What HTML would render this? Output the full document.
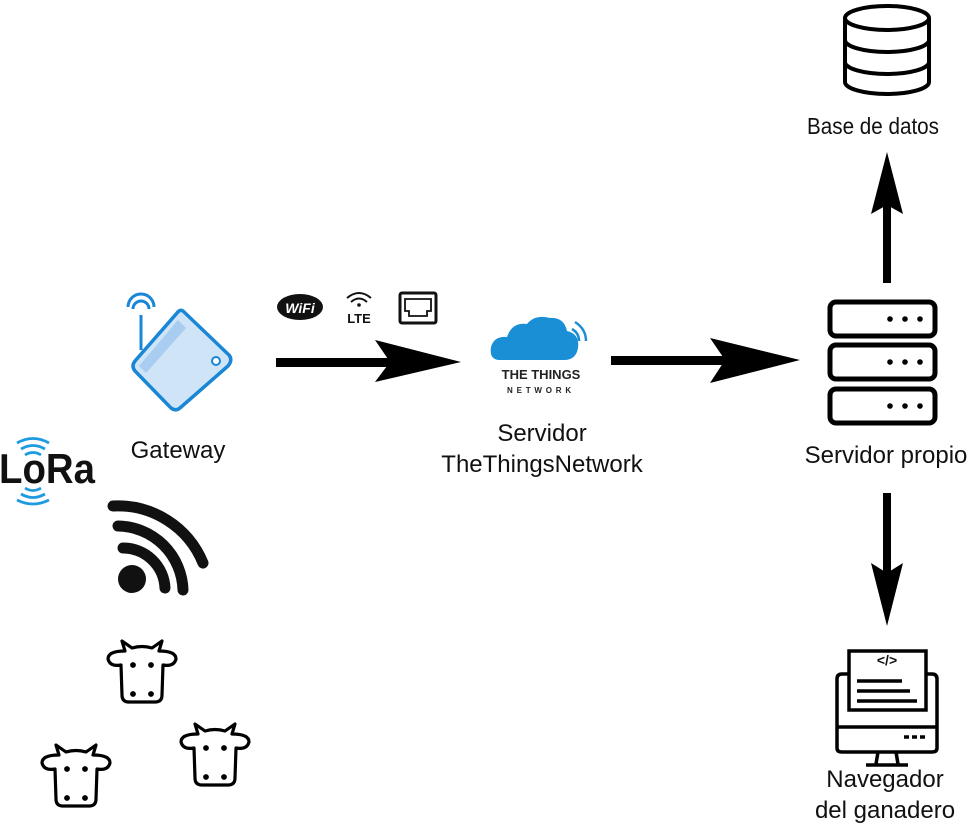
<!DOCTYPE html>
<html><head><meta charset="utf-8"><style>
html,body{margin:0;padding:0;background:#fff;}
svg{display:block;}
text{font-family:"Liberation Sans",sans-serif;fill:#111;}
</style></head><body>
<svg width="972" height="824" viewBox="0 0 972 824" xmlns="http://www.w3.org/2000/svg">
<!-- Database -->
<g fill="none" stroke="#000" stroke-width="4">
<path d="M845 18 V82 A42 12 0 0 0 929 82 V18"/>
<ellipse cx="887" cy="18" rx="42" ry="12" fill="#fff"/>
<path d="M845 40 A42 12 0 0 0 929 40"/>
<path d="M845 62 A42 12 0 0 0 929 62"/>
</g>
<text x="807" y="134" font-size="23" textLength="132" lengthAdjust="spacingAndGlyphs">Base de datos</text>
<!-- up arrow -->
<rect x="883" y="205" width="8" height="78" fill="#000"/>
<polygon points="887,152 903,214 887,205 871,214" fill="#000"/>
<!-- servers -->
<g fill="none" stroke="#000" stroke-width="5">
<rect x="830" y="302" width="105" height="34" rx="6"/>
<rect x="830" y="345" width="105" height="34" rx="6"/>
<rect x="830" y="389" width="105" height="34" rx="6"/>
</g>
<g fill="#000">
<circle cx="890" cy="319" r="2.8"/><circle cx="905" cy="319" r="2.8"/><circle cx="920" cy="319" r="2.8"/>
<circle cx="890" cy="362" r="2.8"/><circle cx="905" cy="362" r="2.8"/><circle cx="920" cy="362" r="2.8"/>
<circle cx="890" cy="406" r="2.8"/><circle cx="905" cy="406" r="2.8"/><circle cx="920" cy="406" r="2.8"/>
</g>
<text x="886" y="463" font-size="24" text-anchor="middle">Servidor propio</text>
<!-- down arrow -->
<rect x="883" y="493" width="8" height="80" fill="#000"/>
<polygon points="887,626 903,563 887,573 871,563" fill="#000"/>
<!-- monitor -->
<g fill="none" stroke="#000" stroke-width="3.5">
<path d="M848 674 H842 Q837 674 837 679 V748 Q837 752 842 752 H932 Q937 752 937 748 V679 Q937 674 932 674 H926"/>
<line x1="837" y1="727" x2="937" y2="727"/>
<rect x="849" y="651" width="77" height="59" fill="#fff"/>
<path d="M878 752 L876 764 M896 752 L898 764"/>
<line x1="866" y1="765" x2="908" y2="765"/>
<line x1="857" y1="681" x2="902" y2="681"/>
<line x1="857" y1="691" x2="910" y2="691"/>
<line x1="857" y1="701" x2="917" y2="701"/>
<line x1="904" y1="737" x2="928" y2="737" stroke-dasharray="5 3"/>
</g>
<text x="887" y="665" font-size="14" font-weight="bold" text-anchor="middle">&lt;/&gt;</text>
<text x="885" y="787" font-size="24" text-anchor="middle">Navegador</text>
<text x="885" y="818" font-size="24" text-anchor="middle">del ganadero</text>
<!-- arrow 2 -->
<rect x="611" y="356" width="115" height="9" fill="#000"/>
<polygon points="800,360 710,338 725,360 710,383" fill="#000"/>
<!-- arrow 1 -->
<rect x="276" y="358" width="115" height="9" fill="#000"/>
<polygon points="461,362 375,340 390,362 375,382" fill="#000"/>
<!-- TTN -->
<path d="M500 360 Q489 360 491 347 Q494 336 507 337 Q512 322 527 324 Q535 314 550 318 Q564 317 567 331 Q580 334 578 348 Q576 360 564 360 Z" fill="#1a8fd6"/>
<g fill="none" stroke="#1a8fd6" stroke-width="2.5">
<path d="M572 329 Q579 333 579 341"/><path d="M575 322 Q586 329 586 341"/>
</g>
<text x="541" y="379" font-size="13" font-weight="bold" text-anchor="middle" style="fill:#222">THE THINGS</text>
<text x="541" y="393" font-size="8" font-weight="bold" text-anchor="middle" letter-spacing="3.8" style="fill:#222">NETWORK</text>
<text x="542" y="441" font-size="24" text-anchor="middle">Servidor</text>
<text x="542" y="472" font-size="24" text-anchor="middle">TheThingsNetwork</text>
<!-- wifi/lte/ethernet icons -->
<ellipse cx="300" cy="307" rx="23" ry="13" fill="#111"/>
<text x="300" y="313" font-size="14" font-weight="bold" text-anchor="middle" style="fill:#fff" font-style="italic">WiFi</text>
<g fill="none" stroke="#111" stroke-width="2">
<path d="M347 298 Q359 288 371 298"/><path d="M351 302 Q359 295 367 302"/>
</g>
<circle cx="359" cy="305" r="1.8" fill="#111"/>
<text x="359" y="323" font-size="13" font-weight="bold" text-anchor="middle">LTE</text>
<rect x="400" y="293" width="36" height="30" rx="2" fill="none" stroke="#111" stroke-width="3"/>
<path d="M405 299 H431 V311 H427 V316 H409 V311 H405 Z" fill="none" stroke="#111" stroke-width="1.8"/>
<!-- gateway -->
<g stroke="#1a86d6" stroke-width="3" fill="none">
<path d="M141 350 L141 315"/>
<path d="M133 309 A8 8 0 0 1 149 309"/><path d="M128 307 A13 13 0 0 1 154 307"/>
</g>
<path d="M183 311 L229 355 Q233 360 228 366 L180 408 Q175 412 170 407 L135 371 Q131 366 135 361 L177 313 Q180 309 183 311 Z" fill="#cfe4f7" stroke="#1a86d6" stroke-width="3.5"/>
<path d="M139 366 L178 320 L186 328 L146 373 Z" fill="#a8cdf0"/>
<circle cx="216" cy="361" r="4" fill="#fff" stroke="#1a86d6" stroke-width="2"/>
<text x="178" y="458" font-size="24" text-anchor="middle">Gateway</text>
<!-- LoRa -->
<text x="-1" y="483" font-size="42" font-weight="bold" textLength="96" lengthAdjust="spacingAndGlyphs" style="fill:#111">LoRa</text>
<g fill="none" stroke="#1e9be0" stroke-width="2.8">
<path d="M25 455 Q33 450 41 455"/><path d="M21 449 Q33 442 45 449"/><path d="M17 443 Q33 434 49 443"/>
<path d="M25 488 Q33 493 41 488"/><path d="M21 494 Q33 501 45 494"/><path d="M17 500 Q33 508 49 500"/>
</g>
<!-- black wifi -->
<circle cx="132" cy="579" r="14" fill="#111"/>
<g fill="none" stroke="#111" stroke-width="11" stroke-linecap="round">
<path d="M123 548 A42 42 0 0 1 165 588"/>
<path d="M118 526 A66 66 0 0 1 183 590"/>
<path d="M113 506 A92 92 0 0 1 203 563"/>
</g>
<!-- cows -->
<defs>
<g id="cow" fill="none" stroke="#000" stroke-width="3.2" stroke-linejoin="round">
<path d="M18 11 L15 1 L25 8 Q35 5 45 8 L55 1 L52 11 Q69 11 69 19 Q67 27 56 25 L55 55 Q55 62 48 62 L22 62 Q15 62 15 55 L14 25 Q3 27 1 19 Q1 11 18 11 Z"/>
<circle cx="26" cy="25" r="1.3" fill="#000"/><circle cx="44" cy="25" r="1.3" fill="#000"/>
<circle cx="26" cy="54" r="1.3" fill="#000"/><circle cx="44" cy="54" r="1.3" fill="#000"/>
</g>
</defs>
<use href="#cow" x="107" y="640"/>
<use href="#cow" x="41" y="744"/>
<use href="#cow" x="180" y="723"/>
</svg>
</body></html>
